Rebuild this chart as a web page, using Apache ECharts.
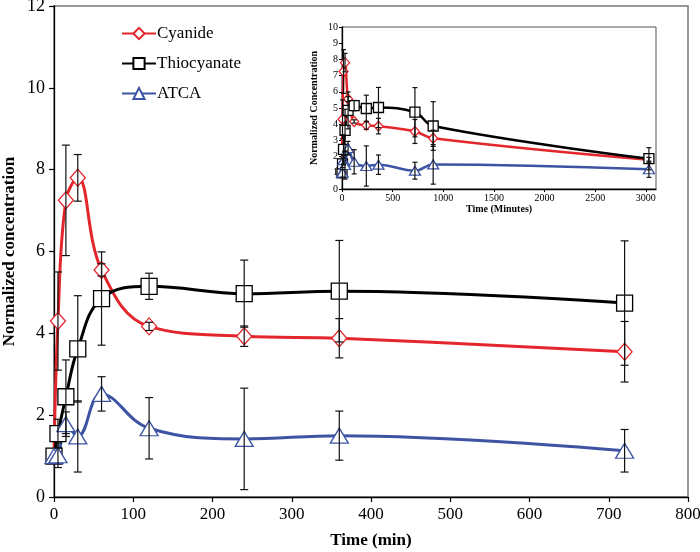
<!DOCTYPE html>
<html>
<head>
    <meta charset="utf-8">
    <title>Normalized concentration</title>
    <script src="https://cdn.jsdelivr.net/npm/echarts@6/dist/echarts.min.js"></script>
    <style>
        html, body { margin: 0; padding: 0; background: #fff; }
        #container { width: 700px; height: 552px; }
    </style>
</head>
<body>
<div id="container"></div>
<script type="text/javascript">
    // main plot (first 12 h)
    var times = [0, 5, 15, 30, 60, 120, 240, 360, 720];
    var cyanide = [1.0, 4.3, 7.25, 7.8, 5.55, 4.17, 3.93, 3.88, 3.55];
    var cyanideErr = [0, 1.2, 1.35, 0.57, 0.15, 0.1, 0.25, 0.48, 0.74];
    var thiocyanate = [1.0, 1.55, 2.45, 3.62, 4.85, 5.15, 4.97, 5.03, 4.74];
    var thiocyanateErr = [0, 0.35, 0.9, 1.3, 1.14, 0.32, 0.82, 1.24, 1.52];
    var atca = [1.0, 1.02, 1.78, 1.48, 2.52, 1.68, 1.42, 1.5, 1.13];
    var atcaErr = [0, 0.3, 0.3, 0.87, 0.42, 0.75, 1.24, 0.6, 0.52];

    // inset (whole run, minutes)
    var insetTimes = [0, 5, 15, 30, 60, 120, 240, 360, 720, 900, 3030];
    var insetCyanide = [1.0, 4.3, 7.25, 7.8, 5.55, 4.17, 3.93, 3.88, 3.55, 3.13, 1.8];
    var insetCyanideErr = [0, 1.2, 1.35, 0.57, 0.15, 0.1, 0.25, 0.48, 0.74, 0.5, 0.15];
    var insetThiocyanate = [1.0, 1.55, 2.45, 3.62, 4.85, 5.15, 4.97, 5.03, 4.74, 3.89, 1.87];
    var insetThiocyanateErr = [0, 0.35, 0.9, 1.3, 1.14, 0.32, 0.82, 1.24, 1.52, 1.5, 0.68];
    var insetAtca = [1.0, 1.02, 1.78, 1.48, 2.52, 1.68, 1.42, 1.5, 1.13, 1.52, 1.22];
    var insetAtcaErr = [0, 0.3, 0.3, 0.87, 0.42, 0.75, 1.24, 0.6, 0.52, 1.22, 0.5];

    var RED = '#e3262b', BLACK = '#000', BLUE = '#3c54a3';
    var SERIF = '"Liberation Serif", "DejaVu Serif", serif';

    function pairs(xs, ys) {
        return xs.map(function (x, i) { return [x, ys[i]]; });
    }
    function bars(xs, ys, es) {
        var out = [];
        xs.forEach(function (x, i) {
            if (es[i] > 0) out.push([x, ys[i] - es[i], ys[i] + es[i]]);
        });
        return out;
    }
    function errRender(cap) {
        return function (params, api) {
            var lo = api.coord([api.value(0), api.value(1)]);
            var hi = api.coord([api.value(0), api.value(2)]);
            var st = { stroke: '#111', lineWidth: 1.2 };
            return {
                type: 'group',
                children: [
                    { type: 'line', shape: { x1: lo[0], y1: lo[1], x2: hi[0], y2: hi[1] }, style: st },
                    { type: 'line', shape: { x1: lo[0] - cap, y1: lo[1], x2: lo[0] + cap, y2: lo[1] }, style: st },
                    { type: 'line', shape: { x1: hi[0] - cap, y1: hi[1], x2: hi[0] + cap, y2: hi[1] }, style: st }
                ]
            };
        };
    }
    function lineSeries(name, xs, ys, color, symbol, size, width, grid) {
        return {
            name: name, type: 'line', xAxisIndex: grid, yAxisIndex: grid,
            data: pairs(xs, ys), smooth: 0.4,
            symbol: symbol, symbolSize: size, showAllSymbol: true,
            lineStyle: { color: color, width: width },
            itemStyle: { color: '#fff', borderColor: color, borderWidth: 1.3 },
            z: 3
        };
    }
    function errSeries(xs, ys, es, grid, cap) {
        return {
            type: 'custom', xAxisIndex: grid, yAxisIndex: grid,
            data: bars(xs, ys, es), renderItem: errRender(cap),
            silent: true, z: 4
        };
    }

    var axisLine = { show: true, lineStyle: { color: '#000', width: 1.3 } };
    var tick = { show: true, inside: false, length: 5, lineStyle: { color: '#000', width: 1.2 } };
    var smallTick = { show: true, length: 3, lineStyle: { color: '#000' } };

    var dom = document.getElementById('container');
    var myChart = echarts.init(dom);
    var option = {
        animation: false,
        backgroundColor: '#fff',
        legend: {
            orient: 'vertical', left: 116, top: 20, itemGap: 13,
            itemWidth: 34, itemHeight: 14,
            data: ['Cyanide', 'Thiocyanate', 'ATCA'],
            textStyle: { fontFamily: SERIF, fontSize: 17, color: '#000', padding: [0, 0, 0, -4] }
        },
        grid: [
            { left: 54, top: 6, right: 12, bottom: 55, outerBoundsMode: 'none',
              show: true, borderColor: '#777', borderWidth: 1.5 },
            { left: 342, top: 27, right: 44, bottom: 363, outerBoundsMode: 'none',
              show: true, borderColor: '#555', borderWidth: 1, backgroundColor: '#fff' }
        ],
        xAxis: [
            {
                gridIndex: 0, type: 'value', min: 0, max: 800, interval: 100,
                name: 'Time (min)', nameLocation: 'middle', nameGap: 35, nameMoveOverlap: false,
                nameTextStyle: { fontFamily: SERIF, fontSize: 17, fontWeight: 'bold', color: '#000' },
                axisLine: axisLine, axisTick: tick, splitLine: { show: false },
                axisLabel: { fontFamily: SERIF, fontSize: 17, color: '#000', margin: 9 }
            },
            {
                gridIndex: 1, type: 'value', min: 0, max: 3100, interval: 500,
                name: 'Time (Minutes)', nameLocation: 'middle', nameGap: 15, nameMoveOverlap: false,
                nameTextStyle: { fontFamily: SERIF, fontSize: 10, fontWeight: 'bold', color: '#000' },
                axisLine: axisLine, axisTick: smallTick, splitLine: { show: false },
                axisLabel: {
                    fontFamily: SERIF, fontSize: 10, color: '#000', margin: 4, showMaxLabel: false,
                    formatter: function (v) { return String(v); }
                }
            }
        ],
        yAxis: [
            {
                gridIndex: 0, type: 'value', min: 0, max: 12, interval: 2,
                name: 'Normalized concentration', nameLocation: 'middle', nameGap: 36, nameMoveOverlap: false,
                nameTextStyle: { fontFamily: SERIF, fontSize: 17, fontWeight: 'bold', color: '#000' },
                axisLine: axisLine, axisTick: tick, splitLine: { show: false },
                axisLabel: { fontFamily: SERIF, fontSize: 18, color: '#000', margin: 9 }
            },
            {
                gridIndex: 1, type: 'value', min: 0, max: 10, interval: 1,
                name: 'Normalized Concentration', nameLocation: 'middle', nameGap: 23, nameMoveOverlap: false,
                nameTextStyle: { fontFamily: SERIF, fontSize: 10, fontWeight: 'bold', color: '#000' },
                axisLine: axisLine, axisTick: smallTick, splitLine: { show: false },
                axisLabel: { fontFamily: SERIF, fontSize: 10, color: '#000', margin: 4 }
            }
        ],
        series: [
            lineSeries('Cyanide', times, cyanide, RED, 'diamond', [15, 17], 3, 0),
            lineSeries('Thiocyanate', times, thiocyanate, BLACK, 'rect', 16, 3, 0),
            lineSeries('ATCA', times, atca, BLUE, 'triangle', [18, 15], 3, 0),
            errSeries(times, cyanide, cyanideErr, 0, 4),
            errSeries(times, thiocyanate, thiocyanateErr, 0, 4),
            errSeries(times, atca, atcaErr, 0, 4),

            lineSeries('Cyanide', insetTimes, insetCyanide, RED, 'diamond', [9, 10], 2.5, 1),
            lineSeries('Thiocyanate', insetTimes, insetThiocyanate, BLACK, 'rect', 10, 2.5, 1),
            lineSeries('ATCA', insetTimes, insetAtca, BLUE, 'triangle', [11, 9], 2.5, 1),
            errSeries(insetTimes, insetCyanide, insetCyanideErr, 1, 2.5),
            errSeries(insetTimes, insetThiocyanate, insetThiocyanateErr, 1, 2.5),
            errSeries(insetTimes, insetAtca, insetAtcaErr, 1, 2.5)
        ]
    };
    myChart.setOption(option);
</script>
</body>
</html>
